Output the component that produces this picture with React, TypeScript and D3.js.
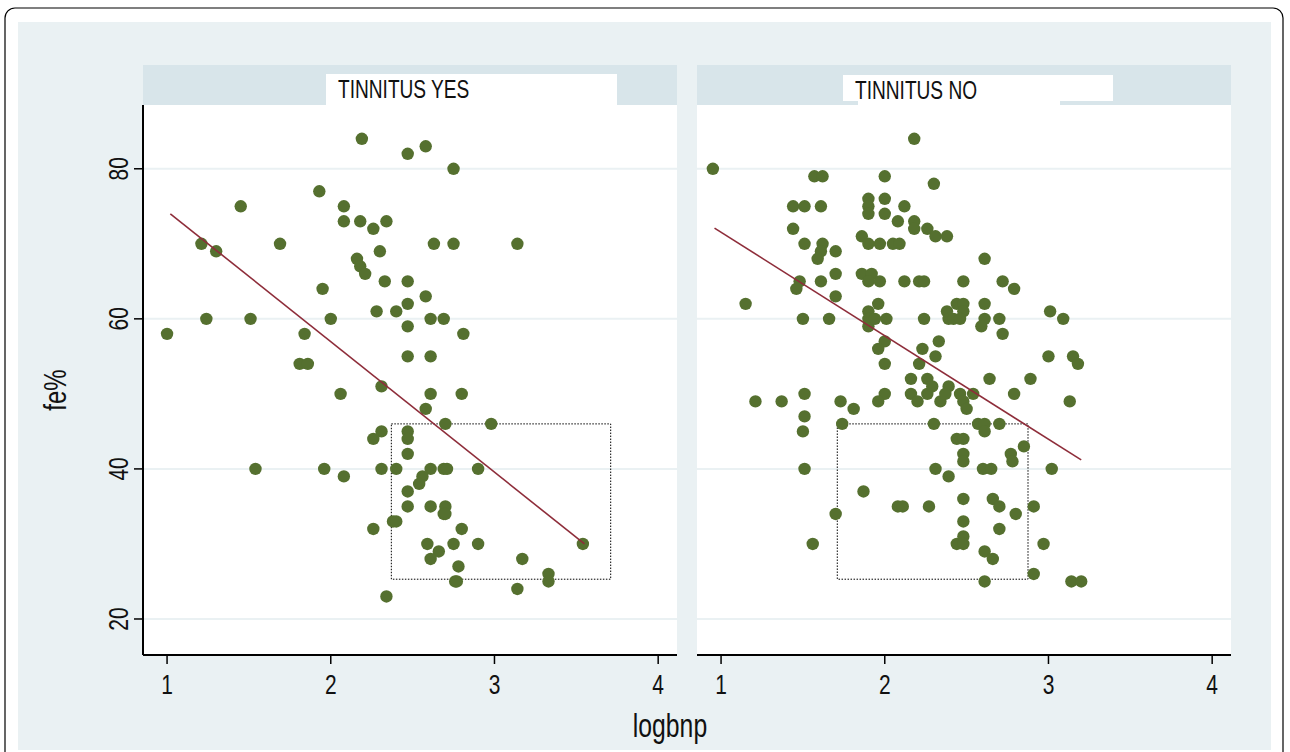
import React from 'react';
import * as d3 from 'd3';

// fe% against logbnp, split by tinnitus
const panelTitles = ['TINNITUS YES', 'TINNITUS NO'];
const xTicks = [1, 2, 3, 4];
const yTicks = [20, 40, 60, 80];

const yesPoints: [number, number][] = [
  [2.19, 84], [2.47, 82], [2.58, 83], [2.75, 80], [1.93, 77], [1.45, 75], [2.08, 75], [2.08, 73],
  [2.18, 73], [2.26, 72], [2.34, 73], [1.21, 70], [1.30, 69], [1.69, 70], [2.30, 69], [2.16, 68],
  [2.18, 67], [2.21, 66], [2.33, 65], [2.47, 65], [1.95, 64], [2.28, 61], [2.40, 61], [2.47, 62],
  [1.24, 60], [1.51, 60], [2.00, 60], [2.47, 59], [1.00, 58], [1.84, 58], [1.81, 54], [1.86, 54],
  [2.47, 55], [2.63, 70], [2.75, 70], [3.14, 70], [2.58, 63], [2.61, 60], [2.69, 60], [2.81, 58],
  [2.61, 55], [2.06, 50], [2.31, 51], [2.31, 45], [2.26, 44], [2.47, 45], [2.47, 44], [2.47, 42],
  [1.54, 40], [1.96, 40], [2.08, 39], [2.31, 40], [2.40, 40], [2.47, 37], [2.47, 35], [2.38, 33],
  [2.40, 33], [2.26, 32], [2.34, 23], [2.61, 50], [2.80, 50], [2.58, 48], [2.70, 46], [2.98, 46],
  [2.61, 40], [2.69, 40], [2.71, 40], [2.90, 40], [2.56, 39], [2.54, 38], [2.61, 35], [2.70, 35],
  [2.69, 34], [2.70, 34], [2.80, 32], [2.59, 30], [2.66, 29], [2.61, 28], [2.75, 30], [2.90, 30],
  [3.54, 30], [3.17, 28], [2.78, 27], [2.76, 25], [2.77, 25], [3.33, 26], [3.33, 25], [3.14, 24],
];

const noPoints: [number, number][] = [
  [0.95, 80], [2.18, 84], [1.57, 79], [1.62, 79], [2.00, 79], [2.30, 78], [1.90, 76], [1.90, 75],
  [1.90, 74], [2.00, 76], [1.44, 75], [1.51, 75], [1.61, 75], [2.12, 75], [2.00, 74], [2.08, 73],
  [2.18, 73], [2.18, 72], [2.26, 72], [2.31, 71], [2.38, 71], [1.44, 72], [1.86, 71], [1.90, 70],
  [1.97, 70], [2.05, 70], [2.09, 70], [1.51, 70], [1.62, 70], [1.61, 69], [1.59, 68], [1.70, 69],
  [1.70, 66], [1.86, 66], [1.92, 66], [1.90, 65], [1.97, 65], [2.12, 65], [2.21, 65], [2.24, 65],
  [1.48, 65], [1.46, 64], [1.61, 65], [1.70, 63], [1.15, 62], [1.96, 62], [1.90, 61], [1.90, 60],
  [1.90, 59], [1.94, 60], [2.01, 60], [1.50, 60], [1.66, 60], [2.24, 60], [2.38, 61], [2.39, 60],
  [2.44, 62], [2.00, 57], [1.96, 56], [2.33, 57], [2.23, 56], [2.31, 55], [2.00, 54], [2.21, 54],
  [2.16, 52], [2.26, 52], [2.61, 68], [2.48, 65], [2.72, 65], [2.79, 64], [2.48, 62], [2.48, 61],
  [2.42, 60], [2.46, 60], [2.61, 62], [2.61, 60], [2.59, 59], [2.70, 60], [2.72, 58], [3.01, 61],
  [3.09, 60], [3.00, 55], [3.15, 55], [3.18, 54], [2.64, 52], [2.89, 52], [1.21, 49], [1.37, 49],
  [1.51, 50], [1.73, 49], [1.81, 48], [2.00, 50], [1.96, 49], [2.16, 50], [2.20, 49], [2.26, 50],
  [2.29, 51], [2.34, 49], [2.39, 51], [2.37, 50], [2.46, 50], [2.48, 49], [2.50, 48], [2.54, 50],
  [1.51, 47], [1.50, 45], [1.74, 46], [2.30, 46], [2.44, 44], [1.51, 40], [2.31, 40], [2.39, 39],
  [1.87, 37], [2.08, 35], [2.11, 35], [2.27, 35], [1.70, 34], [1.56, 30], [2.44, 30], [2.79, 50],
  [3.13, 49], [2.57, 46], [2.61, 46], [2.61, 45], [2.70, 46], [2.48, 44], [2.85, 43], [2.48, 42],
  [2.48, 41], [2.77, 42], [2.78, 41], [2.60, 40], [2.65, 40], [3.02, 40], [2.48, 36], [2.66, 36],
  [2.70, 35], [2.91, 35], [2.80, 34], [2.48, 33], [2.70, 32], [2.48, 31], [2.48, 30], [2.97, 30],
  [2.61, 29], [2.66, 28], [2.91, 26], [2.61, 25], [3.14, 25], [3.20, 25],
];

// fitted lines (start, end)
const yesFit: [number, number][] = [[1.02, 74], [3.55, 30]];
const noFit: [number, number][] = [[0.96, 72.1], [3.2, 41.2]];

// dotted boxes: [xmin, xmax, ymin, ymax]
const yesBox = [2.37, 3.71, 25.3, 46];
const noBox = [1.71, 2.875, 25.3, 46];

const W = 1290;
const H = 752;
const top = 105;
const bottom = 655;
const font = 'Arial, "Liberation Sans", Helvetica, sans-serif';
const dotColor = '#55702f';
const lineColor = '#8e2d3a';
const bgColor = '#eaf1f3';
const stripColor = '#d8e5ea';

const y = d3.scaleLinear().domain([15.2, 88.5]).range([bottom, top]);

// stata text is narrow, squeeze it horizontally
function NText({ x, y, size, rotate = 0, anchor = 'middle', children }: any) {
  return (
    <text
      transform={`translate(${x},${y}) rotate(${rotate}) scale(0.75,1)`}
      fontFamily={font}
      fontSize={size}
      textAnchor={anchor}
      fill="#111"
    >
      {children}
    </text>
  );
}

function Panel({ x0, x1, title, points, fit, box, yAxis, labelBox, extraWhite }: any) {
  const x = d3.scaleLinear().domain([0.853, 4.115]).range([x0, x1]);
  const line = d3.line<[number, number]>().x(d => x(d[0])).y(d => y(d[1]));
  return (
    <g>
      <rect x={x0} y={65} width={x1 - x0} height={top - 65} fill={stripColor} />
      <rect x={labelBox[0]} y={labelBox[1]} width={labelBox[2]} height={labelBox[3]} fill="#fff" />
      {extraWhite && <rect x={extraWhite[0]} y={labelBox[1]} width={extraWhite[1]} height={top - labelBox[1]} fill="#fff" />}
      <NText x={labelBox[0] + 12} y={labelBox[1] + 24} size={25.5} anchor="start">{title}</NText>
      <rect x={x0} y={top} width={x1 - x0} height={bottom - top} fill="#fff" />
      {yTicks.map(t => (
        <line key={t} x1={x0} x2={x1} y1={y(t)} y2={y(t)} stroke={bgColor} strokeWidth={2} />
      ))}
      <rect
        x={x(box[0])}
        y={y(box[3])}
        width={x(box[1]) - x(box[0])}
        height={y(box[2]) - y(box[3])}
        fill="none"
        stroke="#000"
        strokeWidth={1}
        strokeDasharray="1.5,1.5"
      />
      {points.map((d: [number, number], i: number) => (
        <circle key={i} cx={x(d[0])} cy={y(d[1])} r={6.2} fill={dotColor} />
      ))}
      <path d={line(fit) || ''} stroke={lineColor} strokeWidth={1.6} fill="none" />
      <line x1={x0} x2={x1} y1={bottom} y2={bottom} stroke="#000" strokeWidth={2} />
      {xTicks.map(t => (
        <g key={t}>
          <line x1={x(t)} x2={x(t)} y1={bottom} y2={bottom + 9} stroke="#000" strokeWidth={1.5} />
          <NText x={x(t)} y={694} size={28}>{t}</NText>
        </g>
      ))}
      {yAxis && (
        <g>
          <line x1={x0} x2={x0} y1={top} y2={bottom} stroke="#000" strokeWidth={2} />
          {yTicks.map(t => (
            <g key={t}>
              <line x1={x0 - 9} x2={x0} y1={y(t)} y2={y(t)} stroke="#000" strokeWidth={1.5} />
              <NText x={128} y={y(t)} size={28} rotate={-90}>{t}</NText>
            </g>
          ))}
        </g>
      )}
    </g>
  );
}

export default function App() {
  return (
    <svg width={W} height={H} style={{ position: 'absolute', left: 0, top: 0, background: '#fff' }}>
      <rect x={5} y={8} width={1278} height={770} rx={10} fill="#fff" stroke="#000" strokeWidth={1.2} />
      <rect x={18} y={22} width={1253} height={728} fill={bgColor} />
      <Panel
        x0={143}
        x1={677}
        title={panelTitles[0]}
        points={yesPoints}
        fit={yesFit}
        box={yesBox}
        yAxis={true}
        labelBox={[326, 74, 291, 31]}
      />
      <Panel
        x0={697}
        x1={1231}
        title={panelTitles[1]}
        points={noPoints}
        fit={noFit}
        box={noBox}
        yAxis={false}
        labelBox={[843, 75, 270, 26]}
        extraWhite={[858, 202]}
      />
      <NText x={66} y={390} size={32} rotate={-90}>fe%</NText>
      <NText x={670} y={737} size={33}>logbnp</NText>
    </svg>
  );
}
